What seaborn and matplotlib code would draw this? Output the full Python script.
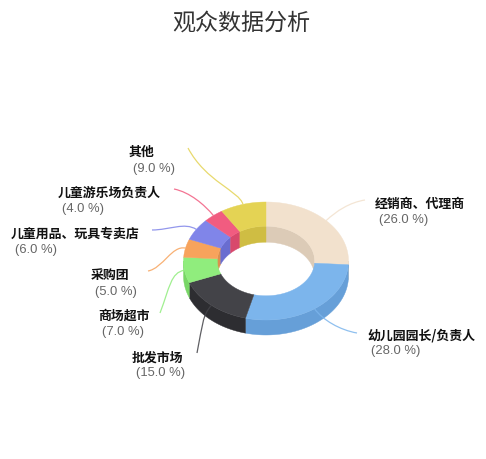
import numpy as np
import seaborn as sns
import matplotlib.pyplot as plt
from matplotlib.path import Path
from matplotlib.patches import PathPatch

title = "观众数据分析"
categories = ["经销商、代理商", "幼儿园园长/负责人", "批发市场", "商场超市",
              "采购团", "儿童用品、玩具专卖店", "儿童游乐场负责人", "其他"]
shares = [26.0, 28.0, 15.0, 7.0, 5.0, 6.0, 4.0, 9.0]
top_colors = ["#f2e1cd", "#7cb5ec", "#434348", "#90ed7d",
              "#f7a35c", "#8085e9", "#f15c80", "#e4d354"]
wall_colors = ["#dccbb7", "#669fd8", "#2d2d31", "#78d666",
               "#dc8f4e", "#696dd0", "#d8496c", "#cfbd43"]

# label layout in pixels: name x, name y, percent x, percent y, connector end x, end y
label_pos = [
    (375, 204, 379, 220, 365, 200),
    (367, 335, 371, 351, 357, 333),
    (132, 358, 136, 373, 197, 353),
    (98, 316, 102, 332, 160, 313),
    (91, 275, 95, 292, 148, 271),
    (11, 234, 15, 250, 152, 230),
    (58, 193, 62, 209, 174, 189),
    (129, 152, 133, 169, 188, 148),
]

CX, CY = 266, 261
RX, RY = 82.5, 59
INNER = 0.59
DEPTH = 15


def ring_xy(theta, scale=1.0, drop=0.0):
    # theta in degrees, clockwise from the top of the ring
    t = np.radians(theta)
    return CX + RX * scale * np.sin(t), CY - RY * scale * np.cos(t) + drop


def band(a, b, scale_a, scale_b, drop_a=0.0, drop_b=0.0):
    th = np.linspace(a, b, 80)
    xa, ya = ring_xy(th, scale_a, drop_a)
    xb, yb = ring_xy(th[::-1], scale_b, drop_b)
    return np.r_[xa, xb], np.r_[ya, yb]


def connector(ax, theta, end, color):
    x0, y0 = ring_xy(theta)
    t = np.radians(theta)
    ex, ey = end
    dx, dy = abs(x0 - ex), abs(y0 - ey)
    # leaves the slice radially, arrives level with the label
    side = np.sign(ex - x0)
    blend = 0.12 if dx > dy else 0.6
    verts = [(x0, y0),
             (x0 + 14 * np.sin(t), y0 - 14 * np.cos(t)),
             (ex - side * min(18, dx * 0.4), ey + (y0 - ey) * blend),
             (ex, ey)]
    codes = [Path.MOVETO, Path.CURVE4, Path.CURVE4, Path.CURVE4]
    ax.add_patch(PathPatch(Path(verts, codes), fill=False, edgecolor=color, lw=0.9,
                           alpha=0.85, zorder=3))


sns.set_theme(style="white")
plt.rcParams["font.family"] = ["Noto Sans CJK SC", "DejaVu Sans"]

fig = plt.figure(figsize=(4.86, 4.59), dpi=100)
ax = fig.add_axes([0, 0, 1, 1])
ax.set_xlim(0, 486)
ax.set_ylim(459, 0)
ax.axis("off")

palette = sns.color_palette(top_colors)
walls = sns.color_palette(wall_colors)

edges = np.r_[0, np.cumsum(shares)] / np.sum(shares) * 360
for i in range(len(shares)):
    a, b = edges[i], edges[i + 1]
    # back of the hole wall
    lo, hi = max(a, 270), min(b, 360)
    if lo < hi:
        x, y = band(lo, hi, INNER, INNER, 0, DEPTH + 1)
        ax.fill(x, y, color=walls[i], lw=0.3, zorder=1)
    lo, hi = max(a, 0), min(b, 90)
    if lo < hi:
        x, y = band(lo, hi, INNER, INNER, 0, DEPTH + 1)
        ax.fill(x, y, color=walls[i], lw=0.3, zorder=1)
    # front of the outer wall
    lo, hi = max(a, 90), min(b, 270)
    if lo < hi:
        x, y = band(lo, hi, 1, 1, 0, DEPTH)
        ax.fill(x, y, color=walls[i], lw=0.3, zorder=2)

for i in range(len(shares)):
    mid = (edges[i] + edges[i + 1]) / 2
    connector(ax, mid, label_pos[i][4:6], top_colors[i])

for i in range(len(shares)):
    x, y = band(edges[i], edges[i + 1], 1, INNER)
    ax.fill(x, y, color=palette[i], lw=0.3, zorder=4)

for i, name in enumerate(categories):
    nx, ny, px, py = label_pos[i][:4]
    ax.text(nx, ny, name, fontsize=9.3, fontweight="bold", color="#111111",
            ha="left", va="center", zorder=5)
    ax.text(px, py, f"({shares[i]:.1f} %)", fontsize=9.4, color="#666666",
            family="Liberation Sans", ha="left", va="center", zorder=5)

ax.text(241.5, 23, title, fontsize=16.6, color="#333333", ha="center", va="center")

fig.savefig("out.png", dpi=100)
